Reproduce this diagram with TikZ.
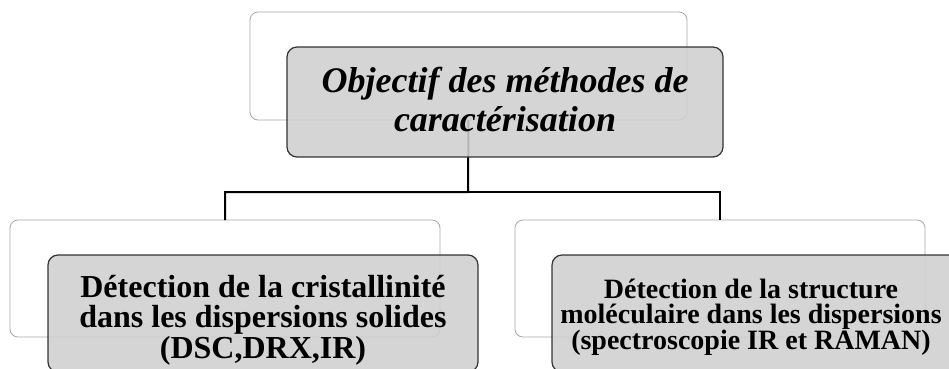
\documentclass[tikz,border=0pt]{standalone}
\usepackage{fontspec}
\setmainfont{Liberation Serif}
\setlength{\lineskiplimit}{-50pt}

\begin{document}
\begin{tikzpicture}
        [x=1pt, y=-1pt,
        every node/.style={inner sep=0pt, outer sep=0pt},
        backbox/.style={draw=black!35, line width=0.8pt, rounded corners=8pt},
        frontbox/.style={draw=black!80, line width=1.2pt, rounded corners=10pt,
                         fill=black!19, fill opacity=0.88},
        lbl/.style={align=center, anchor=base},
        link/.style={draw=black, line width=2pt}]
        \clip (0,0) rectangle (949,368);
        \node[backbox, minimum width=437, minimum height=108] (topback) at (468.5,66) {};
        \node[backbox, minimum width=430, minimum height=117] (leftback) at (225,278.5) {};
        \node[backbox, minimum width=410, minimum height=117] (rightback) at (720,278.5) {};
        \coordinate (bus) at (468,192);
        \draw[link] (topback.south) -- (bus) -| (leftback.north);
        \draw[link] (bus) -| (rightback.north);
        \node[frontbox, minimum width=436, minimum height=110] (top) at (505,102) {};
        \node[frontbox, minimum width=430, minimum height=117] (left) at (263,313.5) {};
        \node[frontbox, minimum width=410, minimum height=117] (right) at (757,313.5) {};
        \node[lbl, font=\fontsize{36}{39}\selectfont\bfseries\itshape] (toplbl) at (505,131)
            {Objectif des méthodes de\\caractérisation};
        \node[lbl, font=\fontsize{32}{30.5}\selectfont\bfseries] (leftlbl) at (263,358)
            {Détection de la cristallinité\\dans les dispersions solides\\(DSC,DRX,IR)};
        \node[lbl, font=\fontsize{28}{25.5}\selectfont\bfseries] (rightlbl) at (751,349)
            {Détection de la structure\\moléculaire dans les dispersions\\(spectroscopie IR et RAMAN)};
\end{tikzpicture}
\end{document}
